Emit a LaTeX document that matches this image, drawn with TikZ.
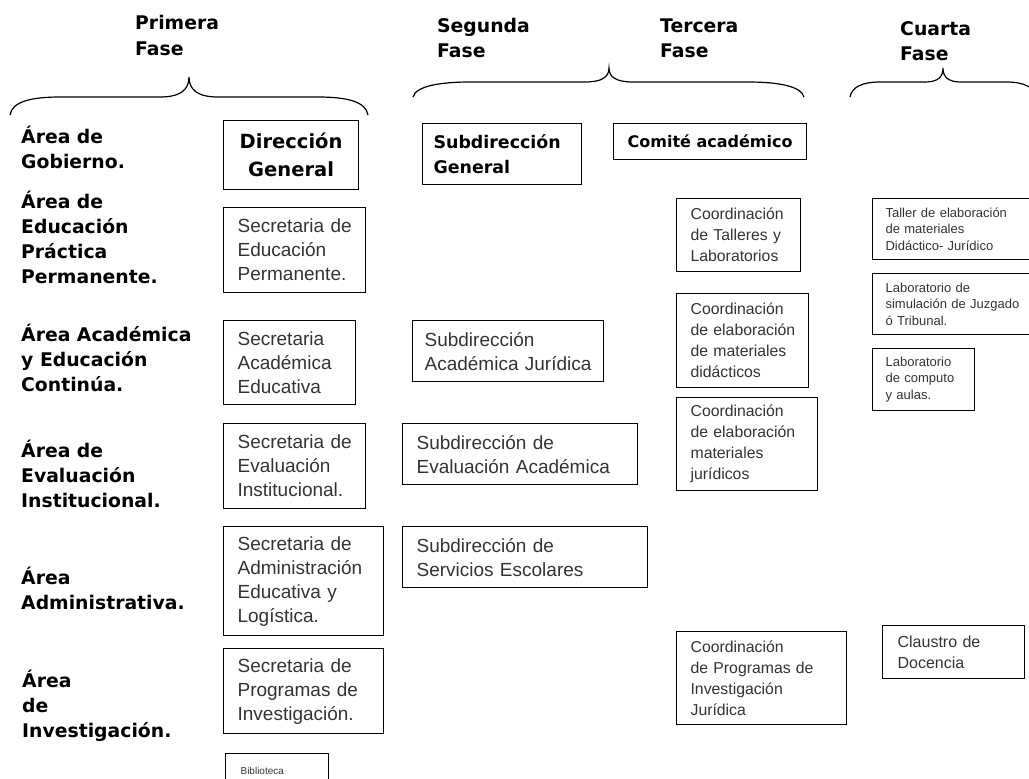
\documentclass[tikz,border=0pt]{standalone}
\usepackage{fontspec}
\setmainfont{Liberation Sans}
\newfontfamily\headfont{DejaVu Sans}
\usetikzlibrary{positioning}
\tikzset{
  fase/.style={anchor=base west, inner sep=0pt, align=left, font=\headfont\bfseries\fontsize{18.8}{25}\selectfont},
  cajon/.style={draw, line width=1.2pt, anchor=north west, inner ysep=0pt, text=black!80, execute at begin node={\hyphenpenalty=10000\exhyphenpenalty=10000}},
  jefbox/.style={cajon, inner xsep=0pt, text=black},
  secbox/.style={cajon, inner xsep=14pt, align=left, font=\fontsize{19}{24}\selectfont},
  coorbox/.style={cajon, inner xsep=14pt, align=left, font=\fontsize{15.8}{21}\selectfont},
  tallbox/.style={cajon, inner xsep=13pt, align=left, font=\fontsize{13}{16.7}\selectfont},
  llave/.style={line width=1.2pt}
}
\begin{document}
\begin{tikzpicture}[x=1pt, y=-1pt]
\useasboundingbox (0,0) rectangle (1029,779);
\clip (0,0) rectangle (1029,779);
\node[fase] (f1) at (135,55) {Primera\\Fase};
\node[fase] (f2) at (437,57) {Segunda\\Fase};
\node[fase] (f3) at (660,57) {Tercera\\Fase};
\node[fase] (f4) at (900,60) {Cuarta\\Fase};
\draw[llave] (10,115) .. controls (12,102) and (30,97) .. (60,97) -- (160,97) .. controls (180,97) and (189,90) .. (189,77) .. controls (189,90) and (198,97) .. (218,97) -- (318,97) .. controls (348,97) and (366,102) .. (368,115);
\draw[llave] (413,97) .. controls (416,86) and (440,82) .. (470,82) -- (585,82) .. controls (602,82) and (609,77) .. (609,68) .. controls (609,77) and (616,82) .. (633,82) -- (748,82) .. controls (778,82) and (801,86) .. (804,97);
\draw[llave] (850,97) .. controls (852,87) and (862,82) .. (880,82) -- (925,82) .. controls (938,82) and (943,77) .. (943,68) .. controls (943,77) and (948,82) .. (961,82) -- (1006,82) .. controls (1024,82) and (1034,87) .. (1036,97);
\node[fase] (agob) at (21,168) {Área de\\Gobierno.};
\node[fase] (aedu) at (21,283) {Área de\\Educación\\Práctica\\Permanente.};
\node[fase] (aaca) at (21,391) {Área Académica\\y Educación\\Continúa.};
\node[fase] (aeva) at (21,507) {Área de\\Evaluación\\Institucional.};
\node[fase] (aadm) at (21,609) {Área\\Administrativa.};
\node[fase] (ainv) at (22,737) {Área\\de\\Investigación.};
\node[jefbox, minimum width=135pt, minimum height=69pt, align=center, font=\headfont\bfseries\fontsize{19.5}{28}\selectfont] (dirgen) at (223,120) {Dirección\\General};
\node[jefbox, minimum width=159pt, minimum height=61pt, inner xsep=11pt, text width=137pt, align=left, font=\headfont\bfseries\fontsize{17.4}{25}\selectfont] (subgen) at (422,123) {Subdirección\\General};
\node[jefbox, minimum width=193pt, minimum height=36pt, font=\headfont\bfseries\fontsize{16}{20}\selectfont] (comite) at (613,123) {Comité académico};
\node[secbox, minimum width=142pt, minimum height=85pt, text width=114pt] (secedu) at (223,207) {Secretaria~de\\Educación\\Permanente.};
\node[secbox, minimum width=132pt, minimum height=84pt, text width=104pt] (secaca) at (223,320) {Secretaria\\Académica\\Educativa};
\node[secbox, minimum width=142pt, minimum height=85pt, text width=114pt] (seceva) at (223,423) {Secretaria~de\\Evaluación\\Institucional.};
\node[secbox, minimum width=160pt, minimum height=109pt, text width=132pt] (secadm) at (223,526) {Secretaria~de\\Administración\\Educativa~y\\Logística.};
\node[secbox, minimum width=160pt, minimum height=85pt, text width=132pt] (secprog) at (223,648) {Secretaria~de\\Programas~de\\Investigación.};
\node[cajon, minimum width=103pt, minimum height=35pt, inner xsep=15pt, text width=73pt, align=left, font=\fontsize{10}{12}\selectfont] (biblio) at (225,753) {Biblioteca};
\node[secbox, minimum width=191pt, minimum height=61pt, inner xsep=12pt, text width=167pt] (subaca) at (412,320) {Subdirección\\Académica~Jurídica};
\node[secbox, minimum width=235pt, minimum height=61pt, text width=207pt] (subeva) at (402,423) {Subdirección~de\\Evaluación~Académica};
\node[secbox, minimum width=245pt, minimum height=61pt, text width=217pt] (subesc) at (402,526) {Subdirección~de\\Servicios~Escolares};
\node[coorbox, minimum width=124pt, minimum height=73pt, text width=96pt] (coortal) at (676,198) {Coordinación\\de~Talleres~y\\Laboratorios};
\node[coorbox, minimum width=132pt, minimum height=94pt, text width=104pt] (coordid) at (676,293) {Coordinación\\de~elaboración\\de~materiales\\didácticos};
\node[coorbox, minimum width=141pt, minimum height=93pt, text width=113pt] (coorjur) at (676,397) {Coordinación\\de~elaboración\\materiales\\jurídicos};
\node[coorbox, minimum width=170pt, minimum height=93pt, text width=142pt] (coorinv) at (676,631) {Coordinación\\de~Programas~de\\Investigación\\Jurídica};
\node[tallbox, minimum width=168pt, minimum height=61pt, text width=142pt] (taller) at (872,198) {Taller~de~elaboración\\de~materiales\\Didáctico-~Jurídico};
\node[tallbox, minimum width=168pt, minimum height=61pt, text width=142pt] (labsim) at (872,273) {Laboratorio~de\\simulación~de~Juzgado\\ó~Tribunal.};
\node[tallbox, minimum width=102pt, minimum height=62pt, text width=76pt] (labcom) at (872,348) {Laboratorio\\de~computo\\y~aulas.};
\node[coorbox, minimum width=142pt, minimum height=53pt, inner xsep=15pt, text width=112pt, font=\fontsize{16}{21}\selectfont] (claustro) at (882,625) {Claustro~de\\Docencia};
\end{tikzpicture}
\end{document}
